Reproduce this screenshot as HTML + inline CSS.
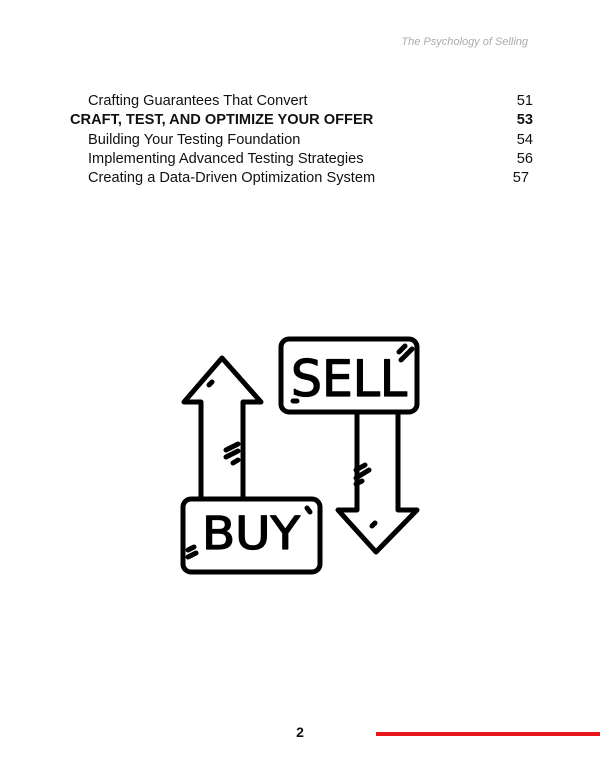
<!DOCTYPE html>
<html><head><meta charset="utf-8"><style>
html,body{margin:0;padding:0;background:#fff;}
body{width:600px;height:777px;position:relative;overflow:hidden;font-family:"Liberation Sans",sans-serif;}
.t{position:absolute;white-space:nowrap;font-size:14.6px;color:#111;line-height:1;}
.b{font-weight:bold;}
.n{position:absolute;white-space:nowrap;font-size:14.6px;color:#111;line-height:1;text-align:right;width:40px;}
</style></head><body>
<div style="position:absolute;left:380px;top:36px;width:148px;text-align:right;font-size:11px;font-style:italic;color:#aaa;">The Psychology of Selling</div>

<div class="t" style="left:88px;top:94px;">Crafting Guarantees That Convert</div>
<div class="n" style="left:493px;top:94px;">51</div>
<div class="t b" style="left:70px;top:113px;">CRAFT, TEST, AND OPTIMIZE YOUR OFFER</div>
<div class="n b" style="left:493px;top:113px;">53</div>
<div class="t" style="left:88px;top:133px;">Building Your Testing Foundation</div>
<div class="n" style="left:493px;top:133px;">54</div>
<div class="t" style="left:88px;top:152px;">Implementing Advanced Testing Strategies</div>
<div class="n" style="left:493px;top:152px;">56</div>
<div class="t" style="left:88px;top:171px;">Creating a Data-Driven Optimization System</div>
<div class="n" style="left:489px;top:171px;">57</div>

<svg style="position:absolute;left:0;top:0" width="600" height="777">
<g fill="none" stroke="#000" stroke-width="5" stroke-linejoin="round" stroke-linecap="round">
<rect x="281" y="339" width="136" height="73" rx="8"/>
<path d="M201 497 V402 H184 L222 358 L261 402 H243 V497"/>
<rect x="183" y="499" width="137" height="73" rx="8"/>
<path d="M357 414 V510 H338 L376 552 L417 510 H398 V414"/>
<path d="M399 352 L405 346 M401 360 L412 349 M226 450 L238 444 M226 457 L238 451 M233 463 L238 460 M356 470 L365 465 M356 478 L369 470 M356 484 L362 481 M209 385 L212 382 M307 508 L310 512 M188 550 L194 547 M188 557 L196 553 M293 401 L297 401 M372 526 L375 523"/>
</g>
<text x="349" y="396" text-anchor="middle" font-family="DejaVu Sans Condensed, Liberation Sans, sans-serif" font-size="50" textLength="116" lengthAdjust="spacingAndGlyphs" fill="#000" stroke="#000" stroke-width="1.2" stroke-linejoin="round">SELL</text>
<text x="251" y="549" text-anchor="middle" font-family="DejaVu Sans Condensed, Liberation Sans, sans-serif" font-size="45" textLength="98" lengthAdjust="spacingAndGlyphs" fill="#000" stroke="#000" stroke-width="1.2" stroke-linejoin="round">BUY</text>
<text x="300" y="737" text-anchor="middle" font-family="Liberation Sans Narrow, Liberation Sans, sans-serif" font-weight="bold" font-size="14" fill="#111">2</text>
<rect x="376" y="732" width="224" height="4" fill="#e8141c"/>
</svg>
</body></html>
